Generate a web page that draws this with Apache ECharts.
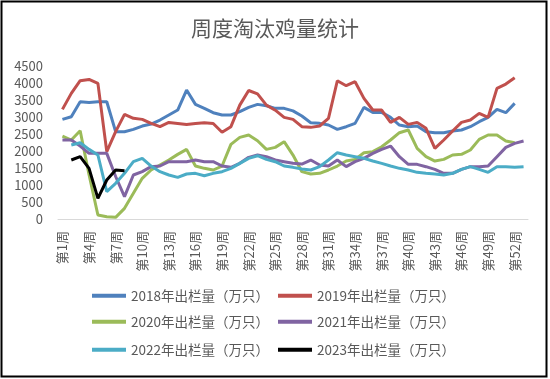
<!DOCTYPE html>
<html>
<head>
<meta charset="utf-8">
<script src="https://cdn.jsdelivr.net/npm/echarts@6/dist/echarts.min.js"></script>
<style>
html,body{margin:0;padding:0;background:#fff;}
#chart{width:550px;height:379px;}
</style>
</head>
<body>
<div id="chart"></div>
<script>
var weeks = ['第1周','第2周','第3周','第4周','第5周','第6周','第7周','第8周','第9周','第10周',
  '第11周','第12周','第13周','第14周','第15周','第16周','第17周','第18周','第19周','第20周',
  '第21周','第22周','第23周','第24周','第25周','第26周','第27周','第28周','第29周','第30周',
  '第31周','第32周','第33周','第34周','第35周','第36周','第37周','第38周','第39周','第40周',
  '第41周','第42周','第43周','第44周','第45周','第46周','第47周','第48周','第49周','第50周',
  '第51周','第52周','第53周'];

var seriesNames = ['2018年出栏量（万只）','2019年出栏量（万只）','2020年出栏量（万只）',
  '2021年出栏量（万只）','2022年出栏量（万只）','2023年出栏量（万只）'];

var y2018 = [2930,3009,3450,3430,3450,3450,2568,2568,2636,2734,2793,2911,3058,3205,3793,3371,3254,3126,3058,3058,
  3156,3283,3371,3332,3254,3254,3180,3028,2832,2813,2764,2636,2715,2813,3283,3136,3136,2989,2764,2715,
  2734,2568,2538,2538,2587,2617,2715,2862,2989,3224,3126,3400];
var y2019 = [3224,3695,4067,4106,3990,1980,2570,3077,2960,2930,2810,2715,2840,2810,2780,2810,2830,2810,2550,2715,
  3350,3780,3680,3350,3200,2990,2930,2715,2695,2735,2960,4067,3920,4038,3548,3205,3205,2842,2990,2783,
  2842,2666,2078,2323,2587,2842,2910,3107,2990,3842,3969,4155];
var y2020 = [2440,2323,2597,1300,118,69,49,314,755,1196,1441,1588,1735,1901,2048,1558,1490,1441,1558,2195,
  2401,2470,2303,2048,2107,2274,1880,1392,1323,1343,1441,1558,1705,1754,1950,1980,2127,2323,2538,2617,
  2078,1833,1705,1754,1882,1901,2029,2342,2470,2470,2293,2244];
var y2021 = [2323,2323,2146,1931,1931,1931,1250,657,1294,1392,1539,1558,1686,1686,1686,1735,1686,1686,1558,1519,
  1637,1813,1882,1833,1735,1686,1637,1617,1735,1588,1558,1735,1539,1686,1784,1931,2048,2146,1833,1607,
  1607,1539,1460,1343,1343,1460,1539,1539,1558,1833,2107,2225,2293];
var y2022 = [null,2176,2244,2048,1882,804,1049,1343,1686,1784,1558,1392,1294,1225,1323,1343,1274,1343,1392,1490,
  1637,1784,1862,1754,1686,1558,1519,1470,1441,1539,1735,1950,1882,1833,1784,1705,1637,1558,1490,1441,
  1372,1343,1323,1294,1343,1460,1539,1460,1372,1539,1539,1519,1539];
var y2023 = [null,1735,1833,1490,608,1147,1441,1421];

var allData = [y2018,y2019,y2020,y2021,y2022,y2023];
var colors = ['#4F81BD','#C0504D','#9BBB59','#8064A2','#4BACC6','#000000'];

var font = '"Noto Sans CJK SC", "Noto Sans", sans-serif';
var txt = '#595959';

var legendPos = [[92,289],[278,289],[92,315],[278,315],[92,343],[278,343]];

var chart = echarts.init(document.getElementById('chart'));
chart.setOption({
  animation: false,
  backgroundColor: '#fff',
  textStyle: {fontFamily: font},
  title: {
    text: '周度淘汰鸡量统计',
    left: 'center',
    top: 18,
    padding: 0,
    textStyle: {fontFamily: font, fontSize: 21, fontWeight: 'normal', color: txt}
  },
  graphic: [{
    type: 'rect',
    shape: {x: 1.5, y: 1.5, width: 545, height: 375},
    style: {fill: 'none', stroke: '#000', lineWidth: 2},
    silent: true
  }],
  legend: seriesNames.map(function (n, i) {
    return {
      data: [n],
      left: legendPos[i][0],
      top: legendPos[i][1],
      padding: 0,
      icon: 'rect',
      itemWidth: 34,
      itemHeight: 4,
      itemGap: 5,
      textStyle: {fontFamily: font, fontSize: 13.5, color: txt}
    };
  }),
  grid: {left: 58, right: 22, top: 66, bottom: 160, containLabel: false},
  xAxis: {
    type: 'category',
    data: weeks,
    boundaryGap: true,
    axisLine: {lineStyle: {color: '#D9D9D9', width: 1}},
    axisTick: {show: false},
    axisLabel: {interval: 2, rotate: 90, margin: 12, fontFamily: font, fontSize: 13, color: txt}
  },
  yAxis: {
    type: 'value',
    min: 0,
    max: 4500,
    interval: 500,
    splitLine: {show: false},
    axisLine: {show: false},
    axisTick: {show: false},
    axisLabel: {
      margin: 15, fontFamily: font, fontSize: 13, color: txt,
      formatter: function (v) { return String(v); }
    }
  },
  series: seriesNames.map(function (n, i) {
    return {
      name: n,
      type: 'line',
      data: allData[i],
      symbol: 'none',
      smooth: false,
      connectNulls: false,
      lineStyle: {color: colors[i], width: 3},
      itemStyle: {color: colors[i]}
    };
  })
});
</script>
</body>
</html>
